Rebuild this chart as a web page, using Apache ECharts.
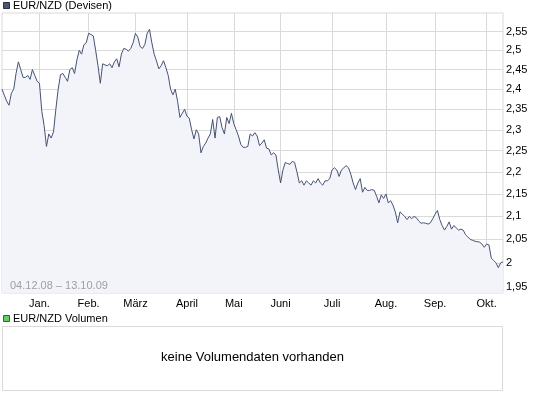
<!DOCTYPE html>
<html>
<head>
<meta charset="utf-8">
<script src="https://cdn.jsdelivr.net/npm/echarts@6/dist/echarts.min.js"></script>
<style>html,body{margin:0;padding:0;background:#fff}#c{width:545px;height:395px}</style>
</head>
<body>
<div id="c"></div>
<script>
// ---- data ----
const startDate = [2008, 12, 4];
const endDate = [2009, 10, 12];
const holidays = ['2008-12-24','2008-12-25','2008-12-26','2008-12-31','2009-01-01','2009-04-10','2009-04-13','2009-05-01'];
const monthNames = ['Jan.','Feb.','März','April','Mai','Juni','Juli','Aug.','Sep.','Okt.','Nov.','Dez.'];
const yTicks = [1.95,2.00,2.05,2.10,2.15,2.20,2.25,2.30,2.35,2.40,2.45,2.50,2.55];
const rates = [
2.40,2.385,2.37,2.36,2.39,2.40,2.44,2.47,2.45,2.43,
2.43,2.435,2.425,2.45,2.435,2.42,2.415,2.345,2.31,2.26,
2.29,2.28,2.295,2.35,2.40,2.437,2.44,2.43,2.42,2.45,
2.455,2.44,2.475,2.50,2.49,2.515,2.52,2.545,2.542,2.538,
2.50,2.46,2.415,2.465,2.462,2.46,2.465,2.455,2.47,2.478,
2.457,2.49,2.505,2.503,2.498,2.505,2.52,2.545,2.535,2.51,
2.505,2.515,2.545,2.556,2.52,2.49,2.472,2.452,2.46,2.473,
2.455,2.435,2.40,2.386,2.40,2.37,2.33,2.34,2.35,2.333,
2.328,2.30,2.278,2.30,2.29,2.245,2.26,2.268,2.28,2.29,
2.325,2.28,2.33,2.332,2.305,2.29,2.33,2.315,2.34,2.315,
2.30,2.285,2.265,2.258,2.258,2.26,2.29,2.285,2.293,2.285,
2.262,2.268,2.276,2.256,2.254,2.24,2.245,2.24,2.205,2.175,
2.205,2.222,2.22,2.218,2.225,2.222,2.20,2.175,2.18,2.17,
2.18,2.175,2.17,2.18,2.175,2.185,2.175,2.17,2.18,2.18,
2.185,2.205,2.21,2.205,2.19,2.205,2.21,2.215,2.21,2.195,
2.175,2.16,2.175,2.185,2.154,2.165,2.158,2.158,2.16,2.158,
2.145,2.13,2.148,2.14,2.15,2.13,2.135,2.125,2.11,2.086,
2.11,2.105,2.10,2.093,2.10,2.095,2.10,2.097,2.09,2.085,
2.086,2.085,2.083,2.086,2.095,2.105,2.113,2.093,2.08,2.07,
2.078,2.088,2.072,2.08,2.075,2.07,2.072,2.07,2.06,2.055,
2.05,2.048,2.046,2.045,2.044,2.04,2.033,2.04,2.038,2.01,
2.005,2.0,1.99,2.0,2.002
];

// trading-day categories
const dates = [];
(function(){
  let t = Date.UTC(startDate[0], startDate[1]-1, startDate[2]);
  const end = Date.UTC(endDate[0], endDate[1]-1, endDate[2]);
  while (t <= end) {
    const d = new Date(t);
    const s = d.toISOString().slice(0,10);
    const wd = d.getUTCDay();
    if (wd !== 0 && wd !== 6 && holidays.indexOf(s) < 0) dates.push(s);
    t += 86400000;
  }
})();
function isMonthStart(i){ return i > 0 && dates[i].slice(5,7) !== dates[i-1].slice(5,7); }

const FONT = 'Liberation Sans';
const chart = echarts.init(document.getElementById('c'), null, {renderer:'canvas'});
chart.setOption({
  animation:false,
  textStyle:{fontFamily:FONT},
  grid:{left:2, right:42, top:13, bottom:102, show:true, borderColor:'#dadada', borderWidth:1, backgroundColor:'transparent'},
  xAxis:{
    type:'category', data:dates, boundaryGap:false,
    axisLine:{show:false}, axisTick:{show:false},
    axisLabel:{interval:function(i){return isMonthStart(i);}, formatter:function(v){return monthNames[parseInt(v.slice(5,7),10)-1];}, color:'#000', fontSize:11, fontFamily:FONT, margin:5},
    splitLine:{show:true, interval:function(i){return isMonthStart(i);}, lineStyle:{color:'#dadada', width:1}}
  },
  yAxis:{
    type:'log', logBase:10, min:1.9377, max:2.6, position:'right',
    axisLine:{show:false}, axisTick:{show:false}, axisLabel:{show:false}, splitLine:{show:false}
  },
  series:[{
    type:'line', data:rates, symbol:'none', smooth:false,
    lineStyle:{color:'#465272', width:1},
    areaStyle:{color:'#f3f4fa', origin:'start', opacity:1},
    markLine:{
      silent:true, symbol:'none', animation:false, z:1,
      lineStyle:{color:'#dadada', width:1, type:'solid'},
      label:{position:'end', distance:3, color:'#000', fontSize:11, fontFamily:FONT,
        formatter:function(p){return String(p.value).replace('.', ',');}},
      data:yTicks.map(function(v){return {yAxis:v};})
    }
  }],
  graphic:[
    {type:'rect', shape:{x:3.5,y:2.5,width:6,height:6}, style:{fill:'#4a5672', stroke:'#2a3040', lineWidth:1}},
    {type:'text', x:13, y:6, style:{text:'EUR/NZD (Devisen)', fontSize:11, fontFamily:FONT, fill:'#000', textVerticalAlign:'middle'}},
    {type:'text', x:10, y:286, z:10, style:{text:'04.12.08 \u2013 13.10.09', fontSize:11, fontFamily:FONT, fill:'#a0a0a0', textVerticalAlign:'middle'}},
    {type:'rect', shape:{x:3.5,y:315.5,width:6,height:6}, style:{fill:'#66cc66', stroke:'#2a6a2a', lineWidth:1}},
    {type:'text', x:13, y:319, style:{text:'EUR/NZD Volumen', fontSize:11, fontFamily:FONT, fill:'#000', textVerticalAlign:'middle'}},
    {type:'rect', shape:{x:2.5,y:326.5,width:500,height:64}, style:{fill:'none', stroke:'#dadada', lineWidth:1}},
    {type:'text', x:252.5, y:357, style:{text:'keine Volumendaten vorhanden', fontSize:13, fontFamily:FONT, fill:'#000', textAlign:'center', textVerticalAlign:'middle'}}
  ]
});
</script>
</body>
</html>
